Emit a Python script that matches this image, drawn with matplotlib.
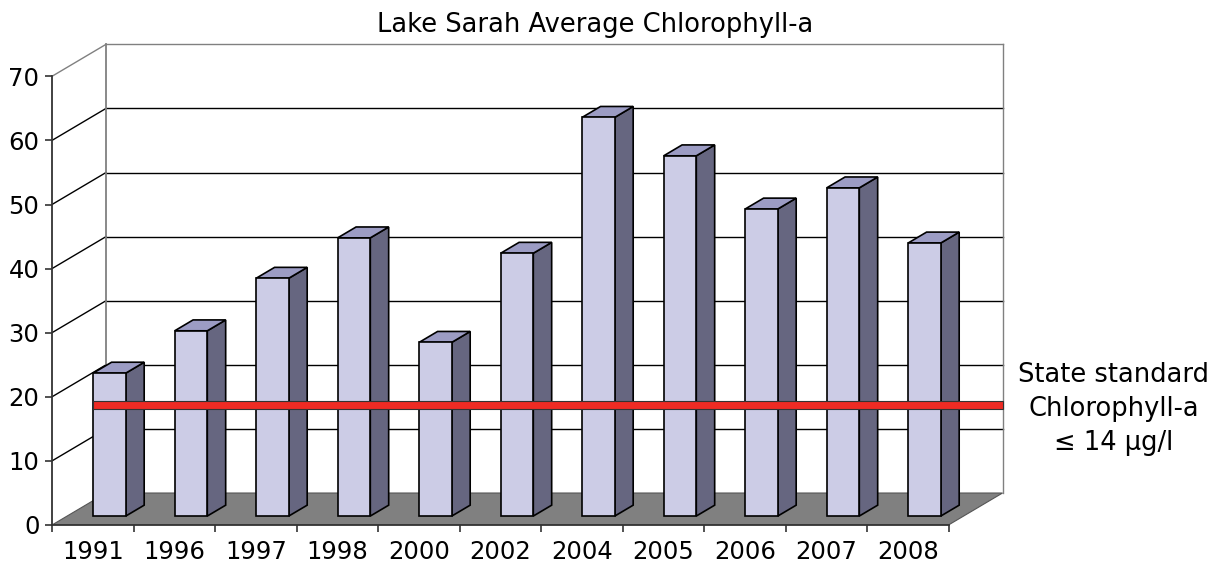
import numpy as np
import matplotlib
matplotlib.use("Agg")
import matplotlib.pyplot as plt
from matplotlib.patches import Polygon, Rectangle

# ── data ────────────────────────────────────────────────────────────────
years = ["1991", "1996", "1997", "1998", "2000", "2002",
         "2004", "2005", "2006", "2007", "2008"]
chl_a = [22.3, 28.9, 37.1, 43.4, 27.1, 41.0, 62.2, 56.2, 47.9, 51.2, 42.6]
std_level = 17.3
std_label = "State standard\nChlorophyll-a\n≤ 14 μg/l"
title = "Lake Sarah Average Chlorophyll-a"
y_ticks = list(range(0, 80, 10))

# ── fake 3D (oblique) geometry, in data units ───────────────────────────
DX, DY = 0.663, 4.99          # full depth of the plot box
Z_FRONT, Z_BACK = 0.28, 0.62  # bar depth (fraction of full depth)
BAR_OFF, BAR_W = 0.32, 0.40   # bar position inside a category

FRONT = "#CCCCE6"
SIDE = "#666680"
TOP = "#9C9CC4"
FLOOR = "#808080"
EDGE = "#000000"
GRID = "#000000"
FRAME = "#808080"


def P(x, y, z):
    return (x + z * DX, y + z * DY)


n = len(years)
ymax = y_ticks[-1]

fig = plt.figure(figsize=(12.29, 5.69), dpi=100)
ax = fig.add_axes([52 / 1229, 44 / 569, 12 * 81.5 / 1229, 76 * 6.41 / 569])
ax.set_xlim(0, 12)
ax.set_ylim(0, 76)

# back wall gridlines + left wall lines
for t in y_ticks[1:]:
    col = FRAME if t == ymax else GRID
    ax.plot(*zip(P(0, t, 1), P(n, t, 1)), color=col, lw=1.0, zorder=1)
    ax.plot(*zip(P(0, t, 0), P(0, t, 1)), color=col, lw=1.0, zorder=1)
ax.plot(*zip(P(0, 0, 1), P(0, ymax, 1)), color=FRAME, lw=1.3, zorder=1)
ax.plot(*zip(P(n, 0, 1), P(n, ymax, 1)), color=FRAME, lw=1.0, zorder=1)

# floor
ax.add_patch(Polygon([P(0, 0, 0), P(n, 0, 0), P(n, 0, 1), P(0, 0, 1)],
                     closed=True, facecolor=FLOOR, edgecolor="#555555",
                     lw=0.8, zorder=2))

# bars
for i, v in enumerate(chl_a):
    x0, x1 = i + BAR_OFF, i + BAR_OFF + BAR_W
    front = [P(x0, 0, Z_FRONT), P(x1, 0, Z_FRONT), P(x1, v, Z_FRONT), P(x0, v, Z_FRONT)]
    side = [P(x1, 0, Z_FRONT), P(x1, 0, Z_BACK), P(x1, v, Z_BACK), P(x1, v, Z_FRONT)]
    top = [P(x0, v, Z_FRONT), P(x1, v, Z_FRONT), P(x1, v, Z_BACK), P(x0, v, Z_BACK)]
    for pts, fc in ((side, SIDE), (top, TOP), (front, FRONT)):
        ax.add_patch(Polygon(pts, closed=True, facecolor=fc, edgecolor=EDGE,
                             lw=1.2, joinstyle="miter", zorder=3))

# state standard line
xs, ys = P(BAR_OFF, std_level, Z_FRONT)
xe = P(n, 0, 1)[0]
ax.add_patch(Rectangle((xs, ys - 0.6), xe - xs, 1.2, facecolor="#EE2B24",
                       edgecolor="#333333", lw=0.8, zorder=5, clip_on=False))
fig.text(1114 / 1229, 1 - 409 / 569, std_label, ha="center", va="center",
         fontsize=18.5, linespacing=1.38)

# axes
for s in ("top", "right"):
    ax.spines[s].set_visible(False)
ax.spines["left"].set_bounds(0, ymax)
ax.spines["bottom"].set_bounds(0, n)
for s in ("left", "bottom"):
    ax.spines[s].set_color("#333333")
    ax.spines[s].set_linewidth(1.3)
    ax.spines[s].set_zorder(6)

ax.set_yticks(y_ticks)
ax.set_yticklabels([str(t) for t in y_ticks])
ax.set_xticks(np.arange(n + 1))
ax.set_xticklabels([])
ax.set_xticks(np.arange(n) + 0.5, minor=True)
ax.set_xticklabels(years, minor=True)
ax.tick_params(axis="both", which="major", direction="out", length=5,
               width=1.2, color="#333333", labelsize=17.5)
ax.tick_params(axis="x", which="minor", length=0, pad=11, labelsize=17.5)
ax.tick_params(axis="y", pad=4)

fig.text(595 / 1229, 1 - 32 / 569, title, ha="center", va="baseline",
         fontsize=18.5)

fig.savefig("out.png", dpi=100)
